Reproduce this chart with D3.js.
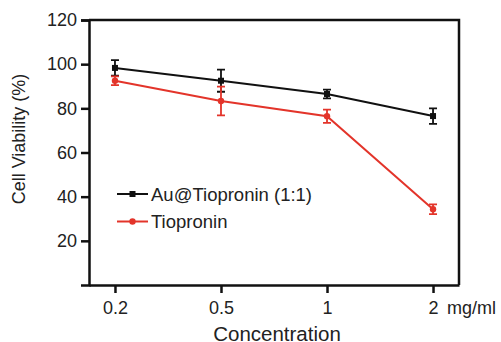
<!DOCTYPE html>
<html>
<head>
<meta charset="utf-8">
<script src="https://cdn.jsdelivr.net/npm/d3@7"></script>
<style>
  body { margin: 0; background: #fff; }
  svg { display: block; font-family: "Liberation Sans", Arial, sans-serif; }
</style>
</head>
<body>
<div id="container"></div>
<script>
// data
let concentrations = ['0.2', '0.5', '1', '2']
let auMean = [98.3, 92.5, 86.5, 76.5]
let auErr = [3.5, 5, 2, 3.5]
let tioMean = [92.5, 83.3, 76.4, 34.3]
let tioErr = [2, 6.5, 3, 2.2]
let yTicks = [20, 40, 60, 80, 100, 120]
let seriesNames = ['Au@Tiopronin (1:1)', 'Tiopronin']
let seriesColors = ['#111111', '#e3342a']

let width = 501,
  height = 342

let margin = { top: 20, right: 42, bottom: 57, left: 89 }
let fontSize = 18

let svg = d3.select('#container')
  .append('svg')
  .attr('width', width)
  .attr('height', height)

let x = d3.scalePoint()
  .domain(concentrations)
  .range([margin.left, width - margin.right])
  .padding(0.245)

let y = d3.scaleLinear()
  .domain([0, 120])
  .range([height - margin.bottom, margin.top])

let series = [
  { name: seriesNames[0], color: seriesColors[0], mean: auMean, err: auErr, marker: 'square' },
  { name: seriesNames[1], color: seriesColors[1], mean: tioMean, err: tioErr, marker: 'circle' }
]

// frame (top + right)
svg.append('path')
  .attr('d', `M${margin.left},${margin.top}H${width - margin.right}V${height - margin.bottom}`)
  .attr('fill', 'none')
  .attr('stroke', '#111')
  .attr('stroke-width', 2.5)

// y axis
let yAxis = svg.append('g')
  .attr('transform', `translate(${margin.left},0)`)
  .call(d3.axisLeft(y).tickValues(yTicks).tickSize(8).tickPadding(4))
yAxis.select('.domain').attr('stroke-width', 2.5).attr('stroke', '#111')
yAxis.selectAll('.tick line').attr('stroke-width', 2.5).attr('stroke', '#111')
yAxis.selectAll('text').attr('font-size', fontSize).attr('fill', '#222').attr('font-family', 'Liberation Sans, Arial, sans-serif')

// x axis
let xAxis = svg.append('g')
  .attr('transform', `translate(0,${height - margin.bottom})`)
  .call(d3.axisBottom(x).tickSize(8).tickPadding(3).tickSizeOuter(0))
xAxis.select('.domain').attr('stroke-width', 2.5).attr('stroke', '#111')
xAxis.selectAll('.tick line').attr('stroke-width', 2.5).attr('stroke', '#111')
xAxis.selectAll('text')
  .attr('dy', null)
  .attr('y', 29)
  .attr('font-size', fontSize).attr('fill', '#222').attr('font-family', 'Liberation Sans, Arial, sans-serif')

// unit after last tick
svg.append('text')
  .attr('x', x('2') + 14)
  .attr('y', height - margin.bottom + 29)
  .attr('font-size', fontSize)
  .attr('fill', '#222')
  .text('mg/ml')

// axis titles
svg.append('text')
  .attr('x', 277)
  .attr('y', 341)
  .attr('text-anchor', 'middle')
  .attr('font-size', 20.5)
  .attr('fill', '#222')
  .text('Concentration')

svg.append('text')
  .attr('transform', `translate(25,139) rotate(-90)`)
  .attr('text-anchor', 'middle')
  .attr('font-size', 18)
  .attr('fill', '#222')
  .text('Cell Viability (%)')

let line = d3.line()
  .x((d, i) => x(concentrations[i]))
  .y(d => y(d))

series.forEach(s => {
  let g = svg.append('g')

  g.append('path')
    .attr('d', line(s.mean))
    .attr('fill', 'none')
    .attr('stroke', s.color)
    .attr('stroke-width', 2)

  // error bars
  s.mean.forEach((m, i) => {
    let cx = x(concentrations[i])
    let top = y(m + s.err[i]), bot = y(m - s.err[i])
    g.append('path')
      .attr('d', `M${cx},${top}V${bot}M${cx - 4},${top}H${cx + 4}M${cx - 4},${bot}H${cx + 4}`)
      .attr('stroke', s.color)
      .attr('stroke-width', 1.8)
      .attr('fill', 'none')
  })

  // markers
  g.selectAll('.marker')
    .data(s.mean)
    .join(s.marker === 'square' ? 'rect' : 'circle')
    .attr('class', 'marker')
    .each(function (d, i) {
      let el = d3.select(this)
      let cx = x(concentrations[i]), cy = y(d)
      if (s.marker === 'square') {
        el.attr('x', cx - 3).attr('y', cy - 3).attr('width', 6).attr('height', 6)
      } else {
        el.attr('cx', cx).attr('cy', cy).attr('r', 3.2)
      }
    })
    .attr('fill', s.color)
})

// legend
let legend = svg.append('g')
series.forEach((s, i) => {
  let ly = 194 + i * 27.5
  legend.append('line')
    .attr('x1', 117).attr('x2', 148)
    .attr('y1', ly).attr('y2', ly)
    .attr('stroke', s.color)
    .attr('stroke-width', 2)
  if (s.marker === 'square') {
    legend.append('rect')
      .attr('x', 129.5).attr('y', ly - 3).attr('width', 6).attr('height', 6)
      .attr('fill', s.color)
  } else {
    legend.append('circle')
      .attr('cx', 132.5).attr('cy', ly).attr('r', 3.2)
      .attr('fill', s.color)
  }
  legend.append('text')
    .attr('x', 151)
    .attr('y', ly + 6.5)
    .attr('font-size', 18.5)
    .attr('fill', '#222')
    .text(s.name)
})
</script>
</body>
</html>
